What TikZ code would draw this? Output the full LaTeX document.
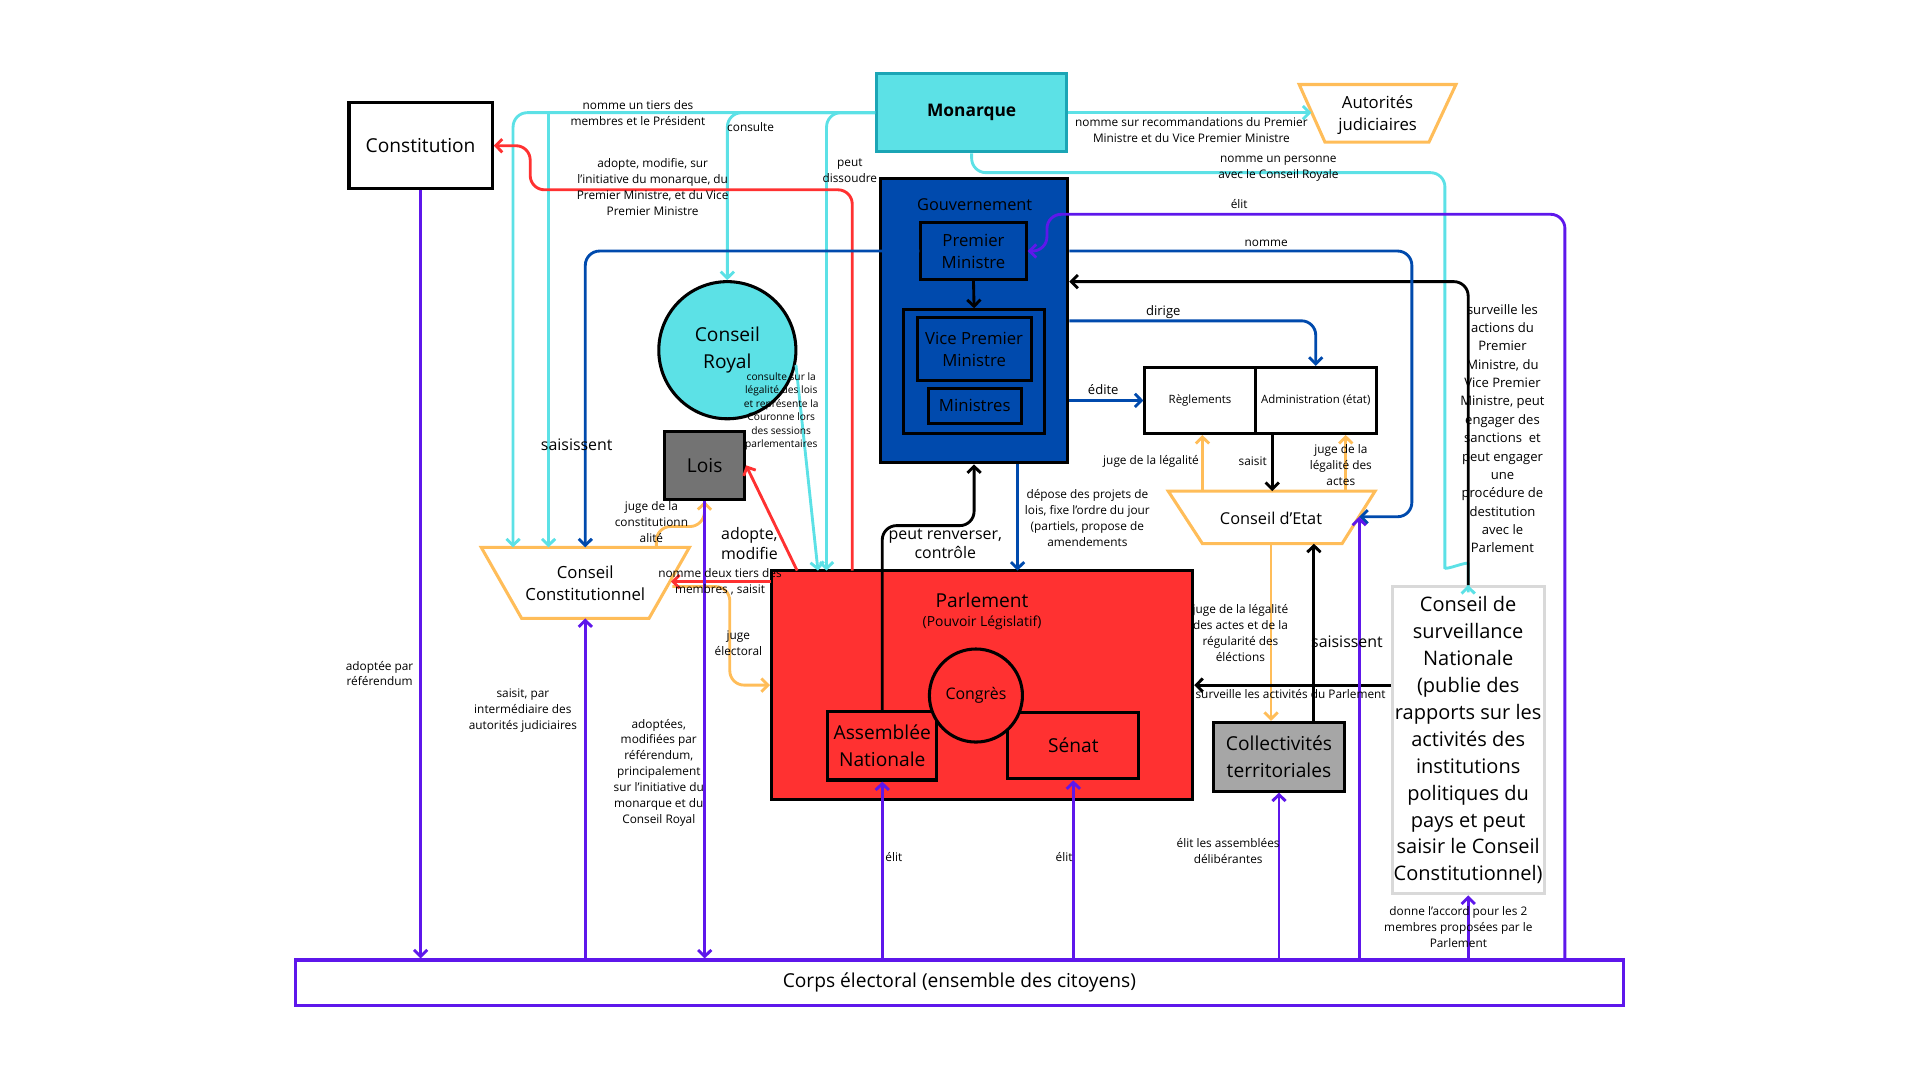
\documentclass[tikz,border=0pt]{standalone}
\usepackage{fontspec}
\setmainfont{Open Sans}
\usetikzlibrary{arrows.meta,fit,calc}
\definecolor{cy}{HTML}{5CE1E6}
\definecolor{cyb}{HTML}{1BA5B5}
\definecolor{gb}{HTML}{004AAD}
\definecolor{rd}{HTML}{FF3131}
\definecolor{og}{HTML}{FFBD59}
\definecolor{pu}{HTML}{5E17EB}
\definecolor{gA}{HTML}{737373}
\definecolor{gB}{HTML}{A6A6A6}
\definecolor{lg}{HTML}{D9D9D9}
\begin{document}
\begin{tikzpicture}[x=0.6pt,y=-0.6pt,
  >={Straight Barb[length=3.2pt,width=6.5pt]},
  conn/.style={line width=1.4pt, rounded corners=7pt, ->},
  box/.style={draw=black, line width=1.5pt, inner sep=0pt},
  txt/.style={align=center, inner sep=0pt},
  lab/.style={font=\fontsize{5.8}{7.8}\selectfont, align=center, inner sep=0pt},
  mlab/.style={font=\fontsize{6.4}{9}\selectfont, align=center, inner sep=0pt},
  blab/.style={font=\fontsize{7.8}{9.6}\selectfont, align=center, inner sep=0pt},
  tlab/.style={font=\fontsize{5}{6.6}\selectfont, align=center, inner sep=0pt},
  big/.style={font=\fontsize{9.4}{13.2}\selectfont},
  mid/.style={font=\fontsize{8.2}{10.8}\selectfont},
  trap/.style={draw=og, line width=1.5pt, fill=white},
]
\useasboundingbox (0,0) rectangle (1568,882);

% ---------- nodes ----------
\node[box, fill=white, fit={(285,84)(402,154)}, label={[txt, big, name=constT]center:{Constitution}}] (const) {};
\node[box, draw=cyb, fill=cy, fit={(716,60)(871,124)}, label={[txt, font=\fontsize{8.5}{10}\selectfont\bfseries, name=monT]center:{Monarque}}] (mon) {};

\draw[trap] (1061,69) -- (1189,69) -- (1167,116) -- (1082,116) -- cycle;
\node[txt, mid] (autj) at (1125,94) {Autorités\\judiciaires};

\node[box, fill=gb, fit={(719,146)(872,378)}] (gov) {};
\node[txt, font=\fontsize{8}{10}\selectfont] (govt) at (796,167) {Gouvernement};
\node[box, fill=gb, fit={(752,182)(838,228)}, label={[txt, mid, name=pmT]center:{Premier\\Ministre}}] (pm) {};
\node[box, fill=gb, fit={(738,253)(853,354)}] (grp) {};
\node[box, fill=gb, fit={(749,259)(842,311)}, label={[txt, mid, name=vpmT]center:{Vice Premier\\Ministre}}] (vpm) {};
\node[box, fill=gb, fit={(758,317)(834,346)}, label={[txt, mid, name=minsT]center:{Ministres}}] (mins) {};

\node[circle, draw=black, line width=1.5pt, fill=cy, minimum size=67.2pt, inner sep=0pt, align=center, big] (cr) at (594,286) {Conseil\\Royal};
\node[box, fill=gA, fit={(543,352)(608,408)}, label={[txt, big, name=loisT]center:{Lois}}] (lois) {};

\draw[trap] (393,447) -- (563,447) -- (530,505) -- (426,505) -- cycle;
\node[txt, mid] (cc) at (478,476) {Conseil\\Constitutionnel};

\node[box, fill=rd, fit={(630,466)(974,653)}] (parl) {};
\node[txt, font=\fontsize{9.4}{11}\selectfont] (parlt) at (802,490) {Parlement};
\node[txt, font=\fontsize{6.8}{8}\selectfont] (parls) at (802,509) {(Pouvoir Législatif)};
\node[box, fill=rd, fit={(676,581)(765,637)}, label={[txt, big, name=anT]center:{Assemblée\\Nationale}}] (an) {};
\node[box, fill=rd, fit={(823,582)(930,636)}, label={[txt, big, name=senT]center:{Sénat}}] (sen) {};
\node[circle, draw=black, line width=1.5pt, fill=rd, minimum size=45.6pt, inner sep=0pt, font=\fontsize{7.8}{9}\selectfont] (cong) at (797,568) {Congrès};

\node[box, fill=white, fit={(935,300)(1025,354)}, label={[txt, font=\fontsize{5.6}{7}\selectfont, name=reglT]center:{Règlements}}] (regl) {};
\node[box, fill=white, fit={(1025,300)(1124,354)}, label={[txt, font=\fontsize{5.6}{7}\selectfont, name=admT]center:{Administration (état)}}] (adm) {};

\draw[trap] (954,401) -- (1123,401) -- (1096,444) -- (982,444) -- cycle;
\node[txt, font=\fontsize{8}{10}\selectfont] (ce) at (1038,423) {Conseil d’Etat};

\node[box, fill=gB, fit={(991,590)(1098,646)}, label={[txt, big, name=collT]center:{Collectivités\\territoriales}}] (coll) {};

\node[box, draw=lg, fill=white, fit={(1137,479)(1261,730)}, label={[txt, font=\fontsize{9.8}{13.2}\selectfont, name=csnT]center:{Conseil de\\surveillance\\Nationale\\(publie des\\rapports sur les\\activités des\\institutions\\politiques du\\pays et peut\\saisir le Conseil\\Constitutionnel)}}] (csn) {};

\node[box, draw=pu, fill=white, fit={(241,784)(1326,821)}, label={[txt, font=\fontsize{9.4}{11}\selectfont, name=corpsT]center:{Corps électoral (ensemble des citoyens)}}] (corps) {};

% ---------- attachment points ----------
\coordinate (cc1) at (419,447);
\coordinate (cc2) at (448,447);
\coordinate (cc3) at (548,475);
\coordinate (cc4) at (536,447);
\coordinate (cc5) at (549,479);
\coordinate (cc6) at (478,447);
\coordinate (ccb) at (478,505);
\coordinate (j1) at (448,92);
\coordinate (p1) at (675,466);
\coordinate (p2) at (668,466);
\coordinate (p3) at (696,466);
\coordinate (p4) at (651,466);
\coordinate (p5) at (630,475);
\coordinate (p6) at (831,466);
\coordinate (aj1) at (1071,92);
\coordinate (ce1) at (982,401);
\coordinate (ce2) at (1099,401);
\coordinate (ce3) at (1039,401);
\coordinate (ce4) at (1110,422);
\coordinate (ce5) at (1038,444);
\coordinate (ce6) at (1073,444);
\coordinate (y230) at (0,230);
\coordinate (y262) at (0,262);
\coordinate (pe) at (1278,175);

% ---------- connectors ----------
% cyan
\draw[conn,cy] (mon.west) -| (cc1);
\draw[conn,cy] (j1) -- (cc2);
\draw[conn,cy] (mon.west) -| (cr.north);
\draw[conn,cy] (mon.west) -| (p1);
\draw[conn,cy] (cr.-12) -- (p2);
\draw[conn,cy] (mon.south) |- (1180,141) -- (1180,452) .. controls (1180,466) and (1199,458) .. (1199,472) -- (csn.north);
\draw[conn,cy] (mon.east) -- (aj1);
% orange
\draw[conn,og] (cc4) |- (575,430) -- (lois.south);
\draw[conn,og] (cc5) -- (596,479) |- (parl.west);
\draw[conn,og] (ce1) -- (ce1 |- regl.south);
\draw[conn,og] (ce2) -- (ce2 |- adm.south);
\draw[conn,og] (ce5) -- (ce5 |- coll.north);
% red
\draw[conn,rd] (p3) |- (433,155) |- (const.east);
\draw[conn,rd] (p4) -- (lois.east);
\draw[conn,rd] (p5) -- (cc3);
% black
\draw[conn] (ce3 |- adm.south) -- (ce3);
\draw[conn] (ce6 |- coll.north) -- (ce6);
\draw[conn] (parl.east -| csn.west) -- (parl.east);
\draw[conn] (csn.north) |- (gov.east |- y230);
\draw[conn] (an.north) |- ($(gov.south)+(0,50)$) -- (gov.south);
\draw[conn] (pm.south) -- (grp.north);
% blue
\draw[conn,gb] (pm.west) -| (cc6);
\draw[conn,gb] (gov.east |- pm.east) -- (1153,205) |- (ce4);
\draw[conn,gb] (gov.east |- y262) -| (adm.north);
\draw[conn,gb] (gov.east |- regl.west) -- (regl.west);
\draw[conn,gb] (gov.south -| p6) -- (p6);
% purple
\draw[conn,pu] (const.south) -- (const.south |- corps.north);
\draw[conn,pu] (ccb |- corps.north) -- (ccb);
\draw[conn,pu] (lois.south) -- (lois.south |- corps.north);
\draw[conn,pu] (an.south |- corps.north) -- (an.south);
\draw[conn,pu] (sen.south |- corps.north) -- (sen.south);
\draw[conn,pu] (coll.south |- corps.north) -- (coll.south);
\draw[conn,pu] (ce4 |- corps.north) -- (ce4);
\draw[conn,pu] (csn.south |- corps.north) -- (csn.south);
\draw[conn,pu] (pe |- corps.north) -- (pe) -- (855,175) -- (855,205) -- (pm.east);

% ---------- labels ----------
\node[lab] (l1) at (521,92) {nomme un tiers des\\membres et le Président};
\node[lab] (l2) at (613,104) {consulte};
\node[lab] (l3) at (533,153) {adopte, modifie, sur\\l’initiative du monarque, du\\Premier Ministre, et du Vice\\Premier Ministre};
\node[lab] (l4) at (694,139) {peut\\dissoudre};
\node[lab] (l5) at (973,106) {nomme sur recommandations du Premier\\Ministre et du Vice Premier Ministre};
\node[lab] (l6) at (1044,138) {nomme un personne\\avec le Conseil Royale};
\node[lab] (l7) at (1012,167) {élit};
\node[lab] (l8) at (1034,199) {nomme};
\node[mlab] (l9) at (950,255) {dirige};
\node[mlab] (l10) at (901,318) {édite};
\node[mlab] (l11) at (1227,350) {surveille les\\actions du\\Premier\\Ministre, du\\Vice Premier\\Ministre, peut\\engager des\\sanctions~ et\\peut engager\\une\\procédure de\\destitution\\avec le\\Parlement};
\node[tlab] (l12) at (638,336) {consulte sur la\\légalité des lois\\et représente la\\Couronne lors\\des sessions\\parlementaires};
\node[blab] (l13) at (471,363) {saisissent};
\node[lab] (l14) at (532,426) {juge de la\\constitutionn\\alité};
\node[blab] (l15) at (612,444) {adopte,\\modifie};
\node[blab] (l16) at (772,444) {peut renverser,\\contrôle};
\node[lab] (l17) at (888,423) {dépose des projets de\\lois, fixe l’ordre du jour\\(partiels, propose de\\amendements};
\node[lab] (l18) at (940,377) {juge de la légalité};
\node[lab] (l19) at (1023,377) {saisit};
\node[lab] (l20) at (1095,380) {juge de la\\légalité des\\actes};
\node[lab] (l21) at (588,475) {nomme deux tiers des\\membres , saisit};
\node[lab] (l22) at (603,525) {juge\\électoral};
\node[lab] (l23) at (1013,517) {juge de la légalité\\des actes et de la\\régularité des\\éléctions};
\node[blab] (l24) at (1100,524) {saisissent};
\node[lab] (l25) at (1054,567) {surveille les activités du Parlement};
\node[lab] (l26) at (310,550) {adoptée par\\référendum};
\node[lab] (l27) at (427,580) {saisit, par\\intermédiaire des\\autorités judiciaires};
\node[lab] (l28) at (538,631) {adoptées,\\modifiées par\\référendum,\\principalement\\sur l’initiative du\\monarque et du\\Conseil Royal};
\node[lab] (l29) at (730,700) {élit};
\node[lab] (l30) at (869,700) {élit};
\node[lab] (l31) at (1003,695) {élit les assemblées\\délibérantes};
\node[lab] (l32) at (1191,757) {donne l’accord pour les 2\\membres proposées par le\\Parlement};
\end{tikzpicture}
\end{document}
